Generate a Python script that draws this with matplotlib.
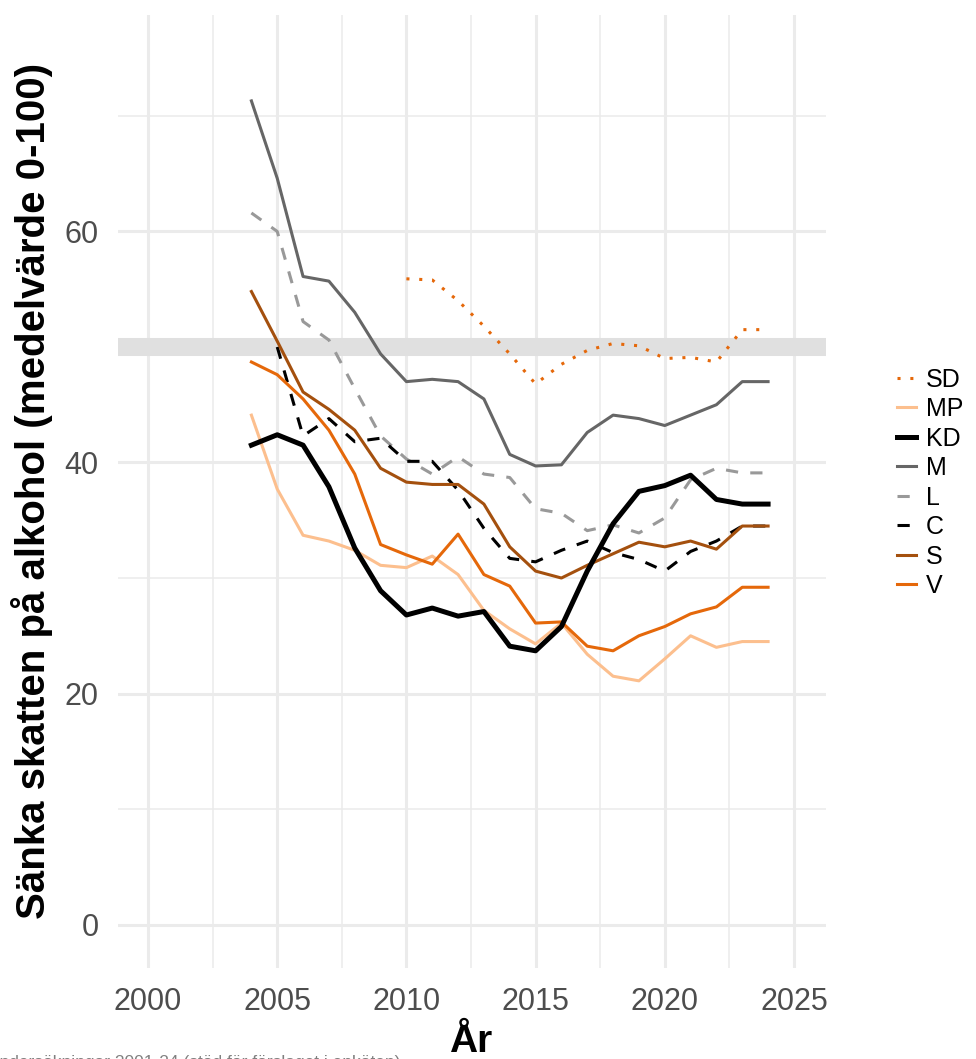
import matplotlib
matplotlib.use("Agg")
import matplotlib.pyplot as plt

plt.rcParams['font.family'] = ['Liberation Sans', 'DejaVu Sans']

years = list(range(2004, 2025))

m_vals = [71.3, 64.6, 56.1, 55.7, 53.0, 49.4, 47.0, 47.2, 47.0, 45.5, 40.7,
          39.7, 39.8, 42.6, 44.1, 43.8, 43.2, 44.1, 45.0, 47.0, 47.0]
l_vals = [61.6, 60.0, 52.2, 50.6, 46.4, 42.3, 40.3, 39.0, 40.5, 39.0, 38.7,
          36.0, 35.6, 34.1, 34.6, 33.9, 35.2, 38.5, 39.5, 39.1, 39.1]
kd_vals = [41.5, 42.4, 41.5, 37.9, 32.6, 28.9, 26.8, 27.4, 26.7, 27.1, 24.1,
           23.7, 25.8, 30.6, 34.7, 37.5, 38.0, 38.9, 36.8, 36.4, 36.4]
s_vals = [54.8, 50.5, 46.1, 44.6, 42.8, 39.5, 38.3, 38.1, 38.1, 36.4, 32.7,
          30.6, 30.0, 31.1, 32.1, 33.1, 32.7, 33.2, 32.5, 34.5, 34.5]
v_vals = [48.7, 47.6, 45.5, 42.8, 39.0, 32.9, 32.0, 31.2, 33.8, 30.3, 29.3,
          26.1, 26.2, 24.1, 23.7, 25.0, 25.8, 26.9, 27.5, 29.2, 29.2]
mp_vals = [44.1, 37.7, 33.7, 33.2, 32.4, 31.1, 30.9, 31.9, 30.3, 27.2, 25.6,
           24.3, 26.1, 23.4, 21.5, 21.1, 23.0, 25.0, 24.0, 24.5, 24.5]

c_years = list(range(2005, 2025))
c_vals = [50.0, 42.3, 43.8, 41.8, 42.1, 40.1, 40.1, 37.6, 34.3, 31.7,
          31.4, 32.4, 33.2, 32.2, 31.6, 30.6, 32.3, 33.2, 34.5, 34.5]

sd_years = list(range(2010, 2025))
sd_vals = [55.9, 55.8, 54.0, 51.8, 49.4, 46.8, 48.5, 49.7, 50.3, 50.1,
           49.0, 49.1, 48.7, 51.5, 51.5]

fig = plt.figure(figsize=(9.76, 10.59), dpi=100)
ax = fig.add_axes([0.121, 0.086, 0.725, 0.900])

grid = "#ebebeb"
for v in [0, 20, 40, 60]:
    ax.axhline(v, color=grid, lw=2.2, zorder=0)
for v in [10, 30, 50, 70]:
    ax.axhline(v, color=grid, lw=1.1, zorder=0)
for v in [2000, 2005, 2010, 2015, 2020, 2025]:
    ax.axvline(v, color=grid, lw=2.2, zorder=0)
for v in [2002.5, 2007.5, 2012.5, 2017.5, 2022.5]:
    ax.axvline(v, color=grid, lw=1.1, zorder=0)

# reference band at the scale midpoint
ax.axhline(50, color="#e0e0e0", lw=13, zorder=1)

orange = "#e5680a"
ax.plot(sd_years, sd_vals, color=orange, lw=2.2, ls=(0, (1, 3.2)), label="SD", zorder=3)
ax.plot(years, mp_vals, color="#fcbf8e", lw=2.2, label="MP", zorder=3)
ax.plot(years, kd_vals, color="black", lw=3.6, label="KD", zorder=4)
ax.plot(years, m_vals, color="#666666", lw=2.2, label="M", zorder=3)
ax.plot(years, l_vals, color="#999999", lw=2.2, ls=(0, (4, 4)), label="L", zorder=3)
ax.plot(c_years, c_vals, color="black", lw=2.2, ls=(0, (4, 4)), label="C", zorder=3)
ax.plot(years, s_vals, color="#a4500e", lw=2.2, label="S", zorder=3)
ax.plot(years, v_vals, color=orange, lw=2.2, label="V", zorder=3)

ax.set_xlim(1998.84, 2026.23)
ax.set_ylim(-3.75, 78.75)
ax.set_xticks([2000, 2005, 2010, 2015, 2020, 2025])
ax.set_yticks([0, 20, 40, 60])
ax.tick_params(length=0, labelsize=22, labelcolor="#4d4d4d")
ax.tick_params(axis="y", pad=14)
ax.tick_params(axis="x", pad=14)
for s in ax.spines.values():
    s.set_visible(False)

ax.set_xlabel("År", fontsize=28, fontweight="bold", labelpad=5)
ax.set_ylabel("Sänka skatten på alkohol (medelvärde 0-100)", fontsize=29,
              fontweight="bold", labelpad=8)

leg = fig.legend(loc="center left", bbox_to_anchor=(0.919, 0.544), frameon=False,
                 fontsize=18, handlelength=0.75, handletextpad=0.4, labelspacing=0.22,
                 borderaxespad=0, borderpad=0)

fig.text(0.41, 0.004, "Källa: SOM-undersökningar 2001-24 (stöd för förslaget i enkäten)",
         ha="right", va="top", fontsize=12.5, color="#808080")

fig.savefig("out.png", dpi=100)
